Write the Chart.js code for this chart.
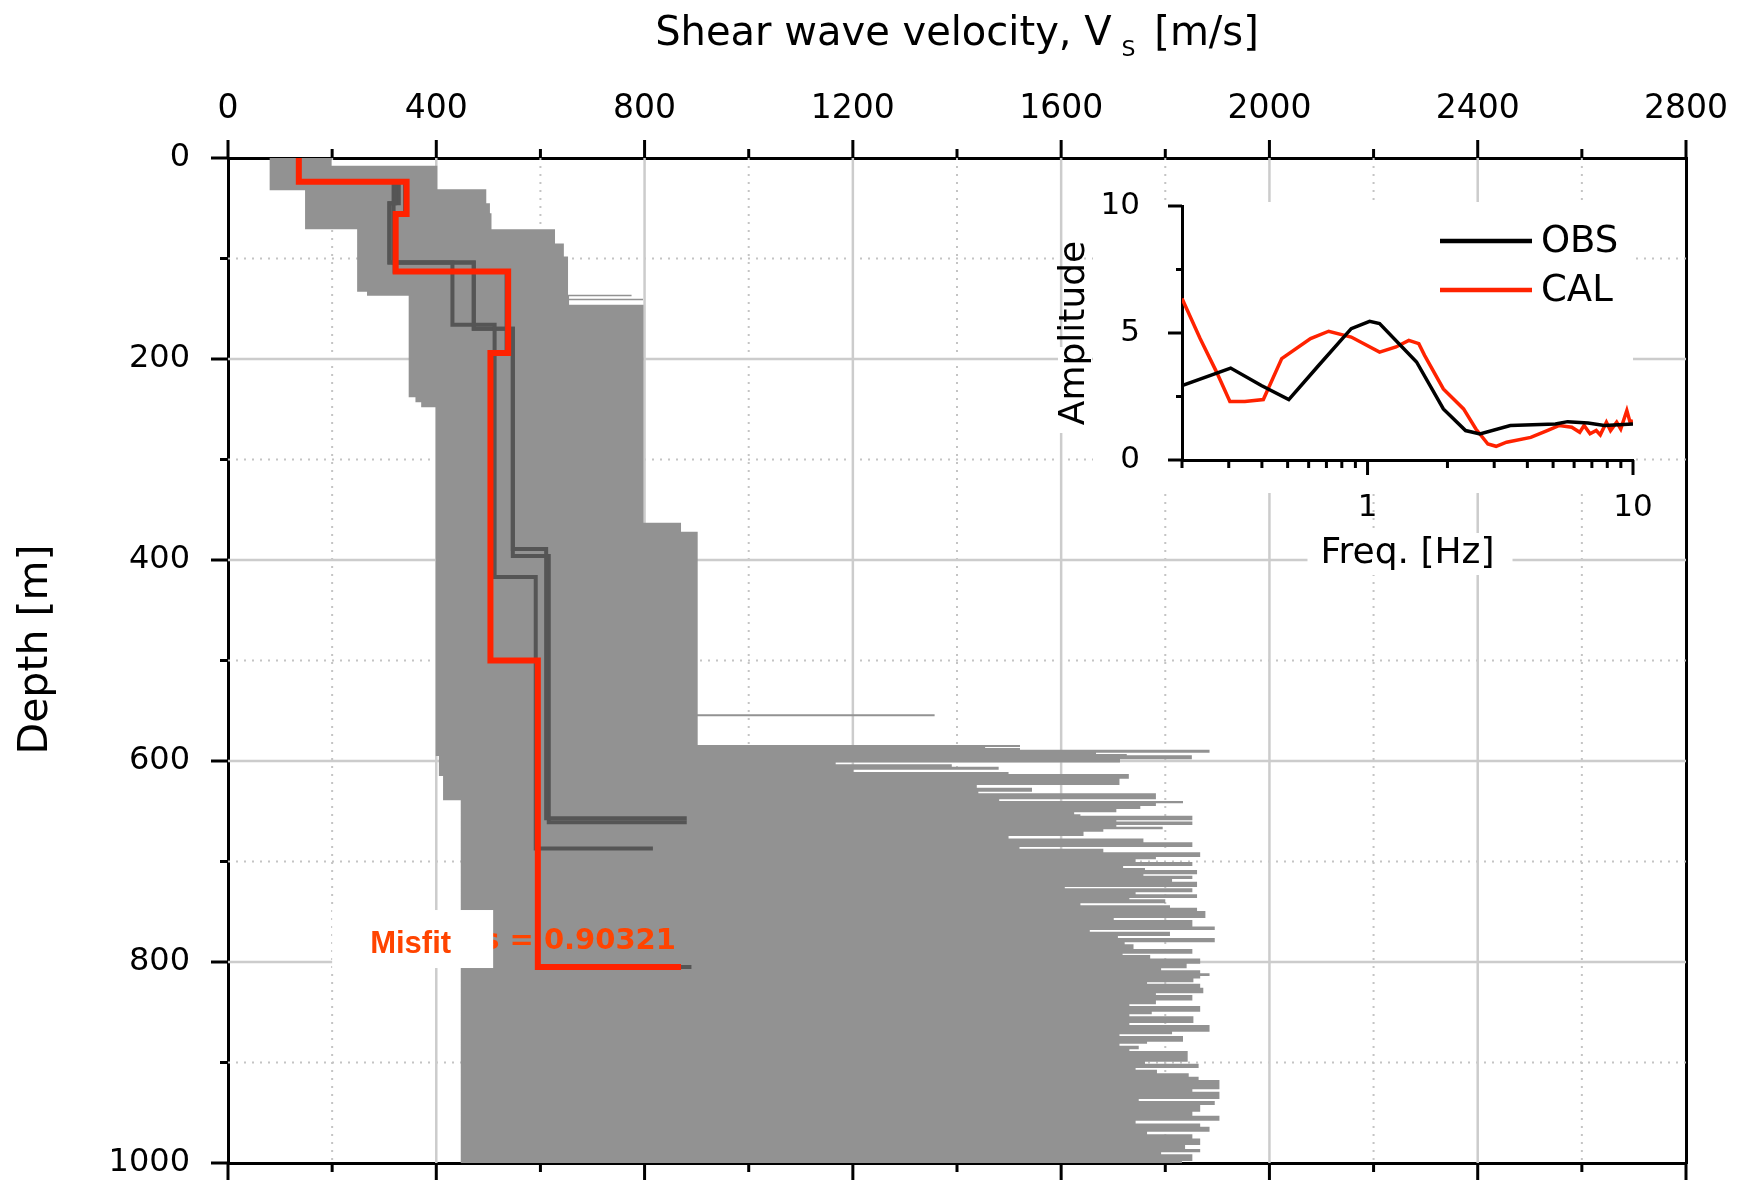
<!DOCTYPE html>
<html>
<head>
<meta charset="utf-8">
<title>Vs profile inversion</title>
<script src="https://cdn.jsdelivr.net/npm/chart.js@4.4.1/dist/chart.umd.min.js"></script>
<style>
  html, body { margin: 0; padding: 0; background: #fff; }
  #wrap { position: relative; width: 1745px; height: 1180px; overflow: hidden; }
  #profile { position: absolute; left: 0; top: 0; }
  #spectrum { position: absolute; left: 1040px; top: 160px; }
</style>
</head>
<body>
<div id="wrap">
  <canvas id="profile" width="1745" height="1180"></canvas>
  <canvas id="spectrum" width="620" height="430"></canvas>
</div>
<script>
// ---- axis ticks ----
const velTicks = [0, 400, 800, 1200, 1600, 2000, 2400, 2800];
const depthTicks = [0, 200, 400, 600, 800, 1000];
const freqTicks = [0.2, 0.3, 0.4, 0.5, 0.6, 0.7, 0.8, 0.9, 1, 2, 3, 4, 5, 6, 7, 8, 9, 10];
const freqLabels = [1, 10];
const ampTicks = [0, 2.5, 5, 7.5, 10];
const ampLabels = [0, 5, 10];
const maxDepth = 1000;

// ---- searched model space: slowest / fastest Vs at each depth (layer top in m, Vs in m/s) ----
const rangeMinTop = [0, 32, 71, 133, 137, 238, 243, 248, 595, 615, 639];
const rangeMinVs  = [80, 148, 248, 267, 347, 360, 371, 399, 405, 413, 447];

const rangeMaxTop = [0, 7.6, 31, 45, 55, 71, 85, 98, 136, 137.5, 140, 141.5, 146, 363, 372, 553.5, 555.5,
  584, 586, 587, 588.7, 591.7, 593, 594.3, 598.3, 601.6, 603.3, 605.6, 608.6, 610.9, 612.9, 617.6,
  623.9, 626.5, 630.5, 632.1, 638.1, 639.8, 642.1, 644.8, 647.7, 651.1, 653, 654.4, 659, 660.3, 663.7,
  665.3, 668, 670.3, 674.6, 677, 680.9, 685.6, 687.2, 690.9, 695.5, 697.8, 700.5, 704.5, 706.4, 708.4,
  712.8, 714.1, 717.4, 720.1, 725.4, 726.7, 730.7, 732.7, 736.3, 737.6, 741.6, 743.6, 745.9, 749.2,
  756.2, 758.2, 764.8, 768.1, 769.8, 774.1, 776.1, 780.4, 782.4, 787.1, 791.7, 793.1, 796.4, 801.7,
  806.3, 808.3, 811.3, 814, 816.3, 820.2, 821.6, 825.6, 831.2, 832.9, 838.2, 842.1, 843.8, 849.4,
  852.1, 854.1, 860.7, 862.7, 869.3, 872, 873.7, 879.3, 881.3, 883.3, 886.9, 888.6, 899.2, 901.2,
  905.5, 907.2, 910.8, 914.1, 917.4, 926.7, 929, 936.3, 938.3, 942.3, 948.9, 952.9, 957.9, 960.6,
  963.9, 968.9, 971.5, 975.5, 982.1, 986.1, 989.4, 991.4, 998];
const rangeMaxVs = [199, 402, 496, 503, 506, 628, 645, 653, 775, 655, 797, 655, 798, 870, 902, 1357, 902,
  1521, 1454, 1521, 1885, 1667, 1726, 1851, 1713, 1167, 1390, 1480, 1201, 1499, 1730, 1712,
  1438, 1544, 1441, 1782, 1481, 1834, 1782, 1752, 1706, 1625, 1637, 1852, 1706, 1852, 1706,
  1795, 1681, 1643, 1499, 1758, 1852, 1520, 1681, 1867, 1782, 1743, 1852, 1719, 1761, 1861,
  1758, 1852, 1813, 1861, 1607, 1852, 1743, 1861, 1731, 1800, 1637, 1809, 1861, 1877,
  1701, 1852, 1895, 1655, 1809, 1709, 1895, 1722, 1739, 1852, 1718, 1771, 1867, 1841,
  1792, 1867, 1885, 1867, 1854, 1765, 1867, 1873, 1782, 1852, 1782, 1731, 1867, 1774,
  1731, 1854, 1731, 1885, 1813, 1712, 1834, 1765, 1712, 1749, 1731, 1843, 1761, 1864,
  1743, 1784, 1845, 1864, 1904, 1852, 1904, 1749, 1895, 1867, 1852, 1904, 1743, 1867,
  1885, 1765, 1852, 1867, 1838, 1867, 1792, 1852, 1832];

// ---- best-fit model ----
const bestTop = [0, 23.6, 55.7, 113, 194, 500];
const bestVs  = [136, 343, 322, 538, 504, 595];
const bestBase = 805;
const bestHalfVs = 870;
const bestMisfit = 0.90321;

// ---- other low-misfit models ----
const altTopA = [0, 24, 45, 104, 166, 417];
const altVsA  = [136, 321, 310, 431, 512, 591];
const altBaseA = 687, altHalfA = 816;
const altTopB = [0, 24, 45, 104, 170, 389];
const altVsB  = [136, 328, 310, 472, 547, 611];
const altBaseB = 657, altHalfB = 881;
const altTopC = [0, 24, 104, 170, 396];
const altVsC  = [136, 318, 472, 547, 616];
const altBaseC = 661, altHalfC = 881;
const altTopD = [0, 24, 55, 113, 194, 500];
const altVsD  = [136, 340, 320, 535, 505, 595];
const altBaseD = 805, altHalfD = 890;

// ---- H/V spectra ----
const obsFreq = [0.2, 0.305, 0.398, 0.505, 0.654, 0.868, 1.018, 1.11, 1.53, 1.93, 2.34, 2.65, 3.45, 5.1, 5.67, 6.77, 7.8, 10];
const obsAmp  = [2.93, 3.62, 2.93, 2.38, 3.72, 5.17, 5.46, 5.37, 3.86, 2.01, 1.16, 1.03, 1.36, 1.42, 1.51, 1.46, 1.36, 1.42];
const calFreq = [0.2, 0.234, 0.27, 0.303, 0.345, 0.405, 0.475, 0.61, 0.714, 0.868, 1.11, 1.28, 1.43, 1.56, 1.64,
  1.93, 2.3, 2.56, 2.84, 3.05, 3.34, 4.12, 4.75, 5.28, 5.88, 6.3, 6.54, 6.89, 7.27, 7.53, 7.94, 8.23, 8.68,
  8.99, 9.48, 9.75, 10];
const calAmp  = [6.36, 4.78, 3.46, 2.3, 2.3, 2.38, 3.99, 4.78, 5.07, 4.84, 4.25, 4.45, 4.71, 4.58, 4.12,
  2.8, 2.01, 1.22, 0.63, 0.54, 0.7, 0.89, 1.16, 1.36, 1.29, 1.09, 1.36, 1.03, 1.16, 0.99, 1.49, 1.16, 1.49,
  1.22, 1.95, 1.49, 1.55];

Chart.defaults.font.family = "'DejaVu Sans', Verdana, sans-serif";
Chart.defaults.color = '#000';

const RED = '#ff2200';
const DARK = '#555555';
const SHADE = '#929292';

// layer tops + velocities -> staircase of {x: Vs, y: depth}
function stepPoints(tops, vs, bottom) {
  const pts = [];
  tops.forEach((t, i) => {
    const next = i + 1 < tops.length ? tops[i + 1] : bottom;
    pts.push({ x: vs[i], y: t }, { x: vs[i], y: next });
  });
  return pts;
}

function profilePoints(tops, vs, base, halfVs) {
  return stepPoints(tops, vs, base).concat([{ x: halfVs, y: base }]);
}

// closed outline of the model range: down the slow edge, back up the fast edge
const rangeOutline = stepPoints(rangeMinTop, rangeMinVs, maxDepth)
  .concat(stepPoints(rangeMaxTop, rangeMaxVs, maxDepth).reverse());

function fixSize(scale, dim, value) {
  scale[dim] = value;
  scale.paddingLeft = scale.paddingRight = scale.paddingTop = scale.paddingBottom = 0;
}

function strokeLine(ctx, x1, y1, x2, y2) {
  ctx.beginPath();
  ctx.moveTo(x1, y1);
  ctx.lineTo(x2, y2);
  ctx.stroke();
}

const frame = { display: true, color: '#000', width: 3 };

const profileDecor = {
  id: 'profileDecor',
  beforeDatasetsDraw(chart) {
    const { ctx, chartArea: a, scales: { x, y } } = chart;
    ctx.save();
    // minor grid, dotted
    ctx.strokeStyle = '#c4c4c4';
    ctx.lineWidth = 2;
    ctx.setLineDash([2, 6]);
    velTicks.slice(0, -1).forEach(v => {
      const px = x.getPixelForValue(v + 200);
      strokeLine(ctx, px, a.top, px, a.bottom);
    });
    depthTicks.slice(0, -1).forEach(d => {
      const py = y.getPixelForValue(d + 100);
      strokeLine(ctx, a.left, py, a.right, py);
    });
    // major grid, solid
    ctx.setLineDash([]);
    ctx.strokeStyle = '#cccccc';
    ctx.lineWidth = 2.5;
    velTicks.slice(1, -1).forEach(v => {
      const px = x.getPixelForValue(v);
      strokeLine(ctx, px, a.top, px, a.bottom);
    });
    depthTicks.slice(1, -1).forEach(d => {
      const py = y.getPixelForValue(d);
      strokeLine(ctx, a.left, py, a.right, py);
    });
    ctx.restore();
  },
  afterDatasetsDraw(chart) {
    const { ctx, scales: { x, y } } = chart;
    const baseY = y.getPixelForValue(bestBase);
    const boxX = x.getPixelForValue(200);
    ctx.save();
    ctx.textBaseline = 'middle';
    ctx.fillStyle = '#ff4400';
    ctx.font = "bold 29px 'DejaVu Sans'";
    ctx.fillText('s = ' + bestMisfit, boxX + 150, baseY - 26);
    ctx.fillStyle = '#fff';
    ctx.fillRect(boxX, baseY - 57, 161, 58);
    ctx.fillStyle = '#ff4400';
    ctx.font = "bold 31px 'Liberation Sans', Arial, sans-serif";
    ctx.fillText('Misfit', boxX + 38, baseY - 23);
    ctx.restore();
  },
  afterDraw(chart) {
    const { ctx, chartArea: a, scales: { x, y } } = chart;
    ctx.save();
    ctx.strokeStyle = '#000';
    ctx.lineWidth = 3;
    velTicks.forEach((v, i) => {
      const px = x.getPixelForValue(v);
      strokeLine(ctx, px, a.top, px, a.top - 18);
      strokeLine(ctx, px, a.bottom, px, a.bottom + 18);
      if (i < velTicks.length - 1) {
        const mx = x.getPixelForValue(v + 200);
        strokeLine(ctx, mx, a.top, mx, a.top - 9);
        strokeLine(ctx, mx, a.bottom, mx, a.bottom + 9);
      }
    });
    depthTicks.forEach((d, i) => {
      const py = y.getPixelForValue(d);
      strokeLine(ctx, a.left, py, a.left - 17, py);
      if (i < depthTicks.length - 1) {
        const my = y.getPixelForValue(d + 100);
        strokeLine(ctx, a.left, my, a.left - 8, my);
      }
    });

    // top axis title with subscript
    ctx.fillStyle = '#000';
    ctx.textBaseline = 'alphabetic';
    ctx.textAlign = 'left';
    const big = "40px 'DejaVu Sans'";
    const small = "22px 'DejaVu Sans'";
    const part1 = 'Shear wave velocity, V';
    const part3 = ' [m/s]';
    ctx.font = big;
    const w1 = ctx.measureText(part1).width;
    const w3 = ctx.measureText(part3).width;
    ctx.font = small;
    const wS = ctx.measureText('S').width;
    const total = w1 + 10 + wS + 6 + w3;
    let tx = (a.left + a.right) / 2 - total / 2;
    const base = 45;
    ctx.font = big;
    ctx.fillText(part1, tx, base);
    tx += w1 + 10;
    ctx.font = small;
    ctx.fillText('S', tx, base + 11);
    tx += wS + 6;
    ctx.font = big;
    ctx.fillText(part3, tx, base);

    // left axis title
    ctx.translate(36, (a.top + a.bottom) / 2 - 11);
    ctx.rotate(-Math.PI / 2);
    ctx.textAlign = 'center';
    ctx.textBaseline = 'middle';
    ctx.font = "41px 'DejaVu Sans'";
    ctx.fillText('Depth [m]', 0, 0);
    ctx.restore();
  }
};

const profileChart = new Chart(document.getElementById('profile'), {
  type: 'line',
  data: {
    datasets: [
      { label: 'best', data: profilePoints(bestTop, bestVs, bestBase, bestHalfVs), borderColor: RED, borderWidth: 6, order: 0 },
      { label: 'A', data: profilePoints(altTopA, altVsA, altBaseA, altHalfA), borderColor: DARK, borderWidth: 4, order: 1 },
      { label: 'B', data: profilePoints(altTopB, altVsB, altBaseB, altHalfB), borderColor: DARK, borderWidth: 4, order: 1 },
      { label: 'C', data: profilePoints(altTopC, altVsC, altBaseC, altHalfC), borderColor: DARK, borderWidth: 4, order: 1 },
      { label: 'D', data: profilePoints(altTopD, altVsD, altBaseD, altHalfD), borderColor: DARK, borderWidth: 4, order: 1 },
      { label: 'range', data: rangeOutline, borderColor: 'rgba(0,0,0,0)', borderWidth: 1,
        backgroundColor: SHADE, fill: 'shape', order: 2 }
    ]
  },
  options: {
    responsive: false,
    animation: false,
    devicePixelRatio: 1,
    events: [],
    layout: { padding: 0 },
    elements: {
      point: { radius: 0 },
      line: { tension: 0, fill: false, borderJoinStyle: 'miter', borderCapStyle: 'butt' }
    },
    plugins: { legend: { display: false }, tooltip: { enabled: false } },
    scales: {
      x: {
        type: 'linear', position: 'top', min: 0, max: 2800, z: 1,
        grid: { display: false }, border: frame,
        afterBuildTicks: s => { s.ticks = velTicks.map(v => ({ value: v })); },
        ticks: { padding: 21, font: { size: 33 }, color: '#000', autoSkip: false, maxRotation: 0,
                 callback: v => String(v) },
        afterFit: s => fixSize(s, 'height', 158)
      },
      x2: {
        type: 'linear', position: 'bottom', min: 0, max: 2800, z: 1,
        grid: { display: false }, border: frame, ticks: { display: false },
        afterFit: s => fixSize(s, 'height', 17)
      },
      y: {
        type: 'linear', position: 'left', reverse: true, min: 0, max: maxDepth, z: 1,
        grid: { display: false }, border: frame,
        afterBuildTicks: s => { s.ticks = depthTicks.map(v => ({ value: v })); },
        ticks: { padding: 30, font: { size: 32, lineHeight: 1 }, color: '#000', autoSkip: false,
                 callback: v => String(v) },
        afterFit: s => fixSize(s, 'width', 228)
      },
      y2: {
        type: 'linear', position: 'right', reverse: true, min: 0, max: maxDepth, z: 1,
        grid: { display: false }, border: frame, ticks: { display: false },
        afterFit: s => fixSize(s, 'width', 59)
      }
    }
  },
  plugins: [profileDecor]
});

// ---- inset: observed vs calculated spectrum ----
const spectrumDecor = {
  id: 'spectrumDecor',
  beforeDraw(chart) {
    const { ctx, chartArea: a } = chart;
    ctx.save();
    ctx.fillStyle = '#fff';
    ctx.fillRect(a.left - 89, a.top - 4, a.right - a.left + 89, a.bottom - a.top + 37);
    ctx.fillRect(18, 187, 34, 86);
    const mid = (a.left + a.right) / 2;
    ctx.fillRect(mid - 100, a.bottom + 73, 205, 42);
    ctx.restore();
  },
  afterDraw(chart) {
    const { ctx, chartArea: a, scales: { x, y } } = chart;
    ctx.save();
    ctx.strokeStyle = '#000';
    ctx.lineWidth = 3;
    ampTicks.forEach(v => {
      const py = y.getPixelForValue(v);
      strokeLine(ctx, a.left, py, a.left - (ampLabels.includes(v) ? 14 : 6), py);
    });
    freqTicks.forEach(f => {
      const px = x.getPixelForValue(f);
      strokeLine(ctx, px, a.bottom, px, a.bottom + (freqLabels.includes(f) ? 15 : 8));
    });
    // legend
    ctx.font = "37px 'DejaVu Sans'";
    ctx.textBaseline = 'middle';
    ctx.textAlign = 'left';
    chart.data.datasets.forEach((ds, i) => {
      const ly = a.top + 35 + i * 49;
      ctx.strokeStyle = ds.borderColor;
      ctx.lineWidth = 4.5;
      strokeLine(ctx, a.right - 193, ly, a.right - 101, ly);
      ctx.fillStyle = '#000';
      ctx.fillText(ds.label, a.right - 92, ly + 1);
    });
    ctx.restore();
  }
};

const spectrumChart = new Chart(document.getElementById('spectrum'), {
  type: 'line',
  data: {
    datasets: [
      { label: 'OBS', data: obsFreq.map((f, i) => ({ x: f, y: obsAmp[i] })), borderColor: '#000', borderWidth: 3.5 },
      { label: 'CAL', data: calFreq.map((f, i) => ({ x: f, y: calAmp[i] })), borderColor: RED, borderWidth: 3.5 }
    ]
  },
  options: {
    responsive: false,
    animation: false,
    devicePixelRatio: 1,
    events: [],
    layout: { padding: { top: 46, right: 27, left: 0, bottom: 0 } },
    elements: { point: { radius: 0 }, line: { tension: 0, fill: false } },
    plugins: { legend: { display: false }, tooltip: { enabled: false } },
    scales: {
      x: {
        type: 'logarithmic', position: 'bottom', min: 0.2, max: 10, z: 1,
        grid: { display: false }, border: frame,
        afterBuildTicks: s => { s.ticks = freqTicks.map(v => ({ value: v })); },
        ticks: { padding: 21, font: { size: 31 }, color: '#000', autoSkip: false, maxRotation: 0,
                 callback: v => freqLabels.includes(v) ? String(v) : '' },
        title: { display: true, text: 'Freq. [Hz]', font: { size: 36 }, color: '#000', padding: { top: 0, bottom: 15 } },
        afterFit: s => fixSize(s, 'height', 130)
      },
      y: {
        type: 'linear', position: 'left', min: 0, max: 10, z: 1,
        grid: { display: false }, border: frame,
        afterBuildTicks: s => { s.ticks = ampTicks.map(v => ({ value: v })); },
        ticks: { padding: 34, font: { size: 31 }, color: '#000', autoSkip: false,
                 callback: v => ampLabels.includes(v) ? String(v) : '' },
        title: { display: true, text: 'Amplitude', font: { size: 36 }, color: '#000', padding: { top: 13, bottom: 0 } },
        afterFit: s => fixSize(s, 'width', 142)
      }
    }
  },
  plugins: [spectrumDecor]
});
</script>
</body>
</html>
